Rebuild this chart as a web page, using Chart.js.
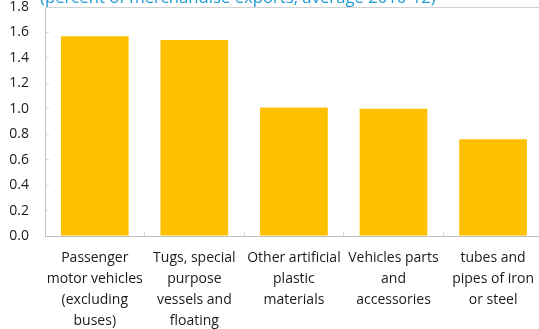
<!DOCTYPE html>
<html>
<head>
<meta charset="utf-8">
<script src="https://cdn.jsdelivr.net/npm/chart.js@4"></script>
<style>
  html, body { margin: 0; padding: 0; background: #fff; overflow: hidden; }
  #wrap { position: absolute; left: 0; top: 0; width: 550px; height: 329px; }
</style>
</head>
<body>
<div id="wrap"><canvas id="chart"></canvas></div>
<script>
const categories = [
    ['Passenger', 'motor vehicles', '(excluding', 'buses)'],
    ['Tugs, special', 'purpose', 'vessels and', 'floating'],
    ['Other artificial', 'plastic', 'materials'],
    ['Vehicles parts', 'and', 'accessories'],
    ['tubes and', 'pipes of iron', 'or steel']
];
const shares = [1.57, 1.54, 1.01, 1.00, 0.76];
const titleText = '(percent of merchandise exports, average 2010-12)';

const font = "'Open Sans', 'Noto Sans', sans-serif";

// frame line on top of the plot area + cut-off title above it
const framePlugin = {
    id: 'frame',
    beforeDatasetsDraw(chart) {
        const { ctx, chartArea: a } = chart;
        ctx.save();
        ctx.strokeStyle = '#d0d0d0';
        ctx.lineWidth = 1;
        ctx.beginPath();
        ctx.moveTo(a.left, Math.round(a.top) + 0.5);
        ctx.lineTo(a.right, Math.round(a.top) + 0.5);
        ctx.stroke();
        ctx.restore();
    },
    afterDraw(chart) {
        const { ctx, chartArea: a } = chart;
        ctx.save();
        ctx.fillStyle = '#1b9ad6';
        ctx.font = '16.7px ' + font;
        ctx.textAlign = 'left';
        ctx.textBaseline = 'alphabetic';
        ctx.fillText(titleText, a.left - 5, a.top - 4);
        ctx.restore();
    }
};

new Chart(document.getElementById('chart'), {
    type: 'bar',
    data: {
        labels: categories,
        datasets: [{
            data: shares,
            backgroundColor: '#ffc000',
            borderWidth: 0,
            categoryPercentage: 1,
            barPercentage: 0.68
        }]
    },
    options: {
        responsive: true,
        maintainAspectRatio: false,
        animation: false,
        layout: { padding: { top: 7, right: 5, left: 0, bottom: 0 } },
        plugins: {
            legend: { display: false },
            tooltip: { enabled: false }
        },
        scales: {
            x: {
                grid: {
                    drawOnChartArea: false,
                    tickLength: -4,
                    color: '#d9d9d9'
                },
                border: { color: '#bfbfbf' },
                ticks: {
                    color: '#1a1a1a',
                    font: { family: font, size: 14, lineHeight: 1.5 },
                    padding: 15.5,
                    maxRotation: 0,
                    autoSkip: false
                },
                afterFit(scale) { scale.height = 93; }
            },
            y: {
                min: 0,
                max: 1.8,
                grid: {
                    drawOnChartArea: false,
                    tickLength: -4,
                    color: '#d9d9d9'
                },
                border: { color: '#bfbfbf' },
                ticks: {
                    stepSize: 0.2,
                    color: '#1a1a1a',
                    font: { family: font, size: 14 },
                    padding: 20,
                    callback: (v) => v.toFixed(1)
                },
                afterFit(scale) {
                    scale.width = 45;
                    scale.paddingTop = 0;
                    scale.paddingBottom = 0;
                }
            }
        }
    },
    plugins: [framePlugin]
});
</script>
</body>
</html>
